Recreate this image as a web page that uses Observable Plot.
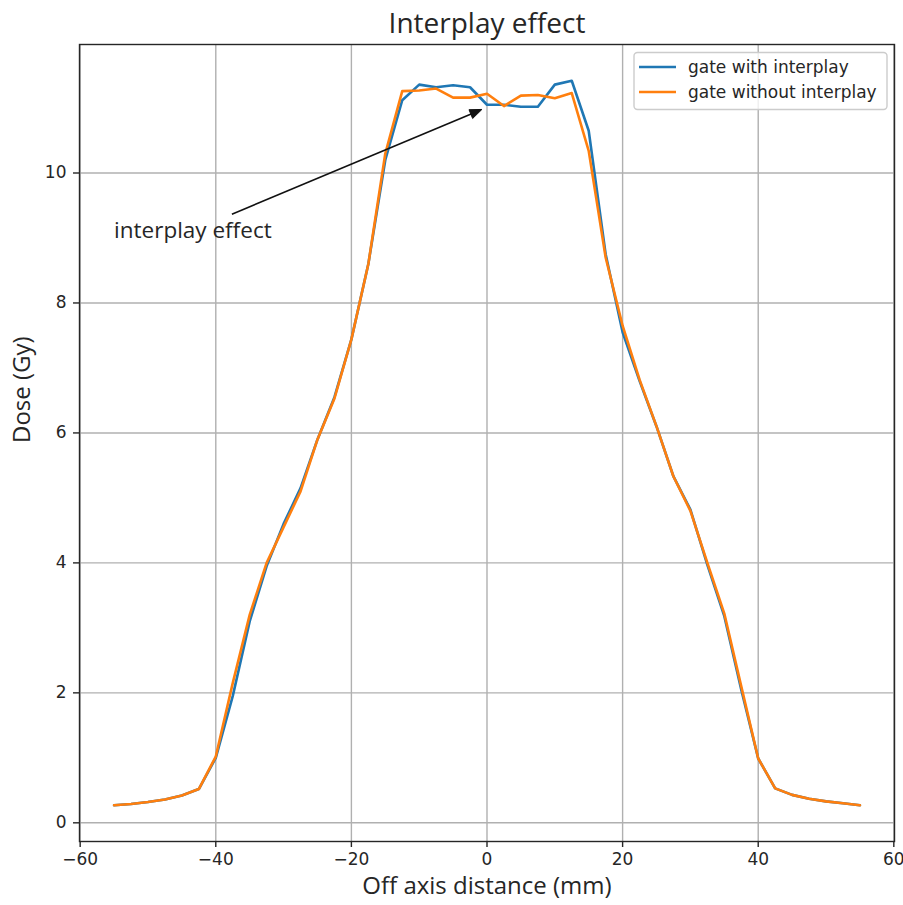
<!DOCTYPE html>
<html>
<head>
<meta charset="utf-8">
<script src="https://cdn.jsdelivr.net/npm/d3@7"></script>
<script src="https://cdn.jsdelivr.net/npm/@observablehq/plot@0.6"></script>
<style>
  html, body { margin: 0; padding: 0; background: #fff; }
</style>
</head>
<body>
<div id="chart"></div>
<script>
// ---- data ----
const offAxis = [-55, -52.5, -50, -47.5, -45, -42.5, -40, -37.5, -35, -32.5, -30, -27.5, -25, -22.5, -20, -17.5, -15, -12.5, -10, -7.5, -5, -2.5, 0, 2.5, 5, 7.5, 10, 12.5, 15, 17.5, 20, 22.5, 25, 27.5, 30, 32.5, 35, 37.5, 40, 42.5, 45, 47.5, 50, 52.5, 55];
const doseWithInterplay = [0.27, 0.29, 0.32, 0.36, 0.42, 0.52, 1.00, 1.95, 3.10, 3.95, 4.60, 5.15, 5.90, 6.55, 7.44, 8.60, 10.20, 11.12, 11.36, 11.32, 11.35, 11.32, 11.05, 11.05, 11.02, 11.02, 11.36, 11.42, 10.65, 8.75, 7.55, 6.80, 6.10, 5.33, 4.82, 3.97, 3.18, 2.05, 0.99, 0.53, 0.43, 0.37, 0.33, 0.30, 0.27];
const doseWithoutInterplay = [0.27, 0.29, 0.32, 0.36, 0.42, 0.52, 1.02, 2.15, 3.20, 4.00, 4.55, 5.10, 5.90, 6.53, 7.44, 8.60, 10.30, 11.26, 11.27, 11.30, 11.16, 11.16, 11.22, 11.03, 11.19, 11.20, 11.15, 11.23, 10.34, 8.70, 7.65, 6.82, 6.10, 5.33, 4.80, 4.00, 3.22, 2.10, 0.99, 0.53, 0.43, 0.37, 0.33, 0.30, 0.27];
const seriesNames = ["gate with interplay", "gate without interplay"];
const seriesColors = ["#1f77b4", "#ff7f0e"];
const xTicks = [-60, -40, -20, 0, 20, 40, 60];
const yTicks = [0, 2, 4, 6, 8, 10];
const titleText = "Interplay effect";
const xLabel = "Off axis distance (mm)";
const yLabel = "Dose (Gy)";
const annotationText = "interplay effect";
const annotationTextPos = [-55, 9];
const annotationTarget = [0, 11];

const rowsWith = offAxis.map((x, i) => ({x, y: doseWithInterplay[i]}));
const rowsWithout = offAxis.map((x, i) => ({x, y: doseWithoutInterplay[i]}));

const allY = doseWithInterplay.concat(doseWithoutInterplay);
const yMin = d3.min(allY), yMax = d3.max(allY), yPad = (yMax - yMin) * 0.05;

const labelFont = "'Open Sans', 'Noto Sans', sans-serif";
const tickFont = "'DejaVu Sans', sans-serif";
const fmt = d3.format("d");
const annFontSize = 22.5;

// legend (function mark, placed from the frame dimensions)
function legendMark(index, scales, values, dims) {
  const right = dims.width - dims.marginRight;
  const top = dims.marginTop;
  const boxW = 253, boxH = 57;
  const x0 = right - 7 - boxW, y0 = top + 8.5;
  const g = d3.create("svg:g");
  g.append("rect").attr("x", x0).attr("y", y0).attr("width", boxW).attr("height", boxH)
    .attr("rx", 3.5).attr("fill", "white").attr("fill-opacity", 0.8)
    .attr("stroke", "#cccccc").attr("stroke-width", 1.4);
  seriesNames.forEach((name, i) => {
    const yy = y0 + 14.5 + i * 25;
    g.append("line").attr("x1", x0 + 5).attr("x2", x0 + 42).attr("y1", yy).attr("y2", yy)
      .attr("stroke", seriesColors[i]).attr("stroke-width", 2.6);
    g.append("text").attr("x", x0 + 54).attr("y", yy).attr("dy", "0.36em")
      .attr("text-anchor", "start")
      .attr("font-family", tickFont).attr("font-size", 17).attr("fill", "#262626").text(name);
  });
  return g.node();
}

// annotation arrow (function mark using the plot's scales)
function arrowMark(index, scales) {
  const fs = annFontSize;
  const tx = scales.x(annotationTextPos[0]), ty = scales.y(annotationTextPos[1]);
  const ex = scales.x(annotationTarget[0]), ey = scales.y(annotationTarget[1]);
  const ctx = document.createElement("canvas").getContext("2d");
  ctx.font = `${fs}px 'Open Sans'`;
  const w = ctx.measureText(annotationText).width;
  const cx = tx + w / 2, cy = ty - 0.3 * fs;
  const topEdge = ty - 0.95 * fs;
  let dx = ex - cx, dy = ey - cy;
  const t = (topEdge - cy) / dy;
  let sx = cx + t * dx, sy = cy + t * dy;
  const len = Math.hypot(ex - sx, ey - sy);
  const ux = (ex - sx) / len, uy = (ey - sy) / len;
  const shrink = 5;
  sx += ux * shrink; sy += uy * shrink;
  const px = ex - ux * shrink, py = ey - uy * shrink;
  const headL = 12, headW = 9.5, shaftW = 1.6;
  const bx = px - ux * headL, by = py - uy * headL;
  const nx = -uy, ny = ux;
  const g = d3.create("svg:g");
  g.append("line").attr("x1", sx).attr("y1", sy).attr("x2", bx + ux * 1).attr("y2", by + uy * 1)
    .attr("stroke", "#111").attr("stroke-width", shaftW);
  g.append("path")
    .attr("d", `M${px},${py}L${bx + nx * headW / 2},${by + ny * headW / 2}L${bx - nx * headW / 2},${by - ny * headW / 2}Z`)
    .attr("fill", "#111").attr("stroke", "#111").attr("stroke-width", 1);
  return g.node();
}

const chart = Plot.plot({
  width: 903,
  height: 905,
  marginLeft: 79,
  marginRight: 9,
  marginTop: 44,
  marginBottom: 64,
  style: {background: "white", color: "#262626", fontFamily: tickFont, fontSize: "17px", overflow: "visible"},
  x: {domain: [-60.1, 60.1]},
  y: {domain: [yMin - yPad, yMax + yPad]},
  marks: [
    Plot.gridX(xTicks, {stroke: "#b0b0b0", strokeOpacity: 1, strokeWidth: 1.4}),
    Plot.gridY(yTicks, {stroke: "#b0b0b0", strokeOpacity: 1, strokeWidth: 1.4}),
    Plot.line(rowsWith, {x: "x", y: "y", stroke: seriesColors[0], strokeWidth: 2.6}),
    Plot.line(rowsWithout, {x: "x", y: "y", stroke: seriesColors[1], strokeWidth: 2.6}),
    Plot.frame({stroke: "#262626", strokeWidth: 1.4}),
    Plot.axisX(xTicks, {tickSize: 6, tickPadding: 5, tickFormat: fmt, fontSize: 17, fontFamily: tickFont, label: null, stroke: "#262626", strokeWidth: 1.4}),
    Plot.axisY(yTicks, {tickSize: 6, tickPadding: 7, tickFormat: fmt, fontSize: 17, fontFamily: tickFont, label: null, stroke: "#262626", strokeWidth: 1.4}),
    Plot.text([titleText], {frameAnchor: "top", dy: -31, fontSize: 28, fontFamily: labelFont, fill: "#262626", text: d => d}),
    Plot.text([xLabel], {frameAnchor: "bottom", dy: 52, fontSize: 24, fontFamily: labelFont, fill: "#262626", text: d => d}),
    Plot.text([yLabel], {frameAnchor: "left", dx: -57, rotate: -90, fontSize: 24, fontFamily: labelFont, fill: "#262626", text: d => d}),
    Plot.text([annotationText], {x: () => annotationTextPos[0], y: () => annotationTextPos[1], text: d => d, textAnchor: "start", lineAnchor: "bottom", fontSize: annFontSize, fontFamily: labelFont, fill: "#262626"}),
    arrowMark,
    legendMark
  ]
});
document.getElementById("chart").appendChild(chart);
</script>
</body>
</html>
